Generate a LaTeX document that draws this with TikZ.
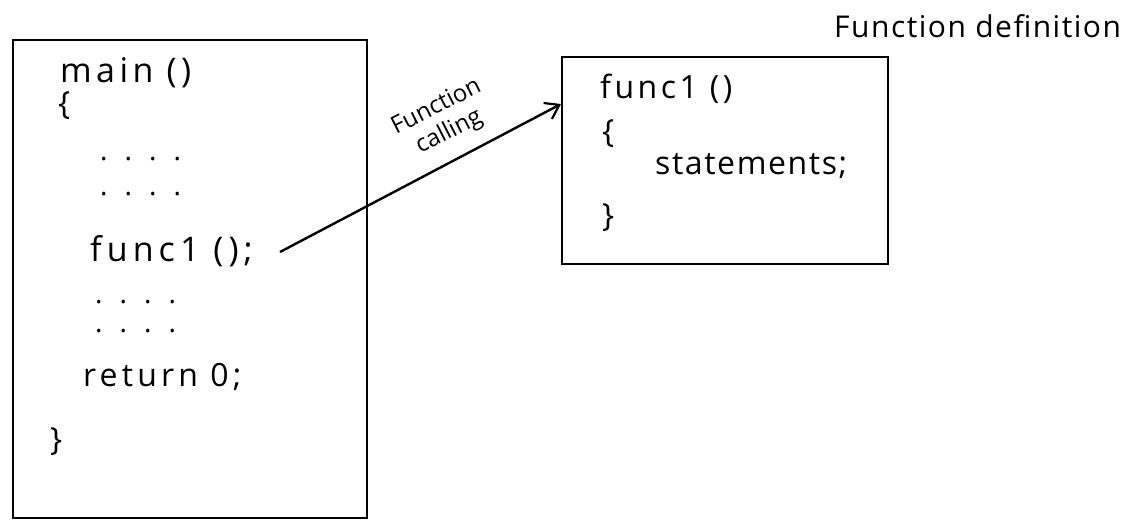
\documentclass[tikz,border=0pt]{standalone}
\usepackage{fontspec}
\setmainfont{Open Sans}
\usetikzlibrary{arrows.meta}
\tikzset{
  boxst/.style={draw, line width=2pt, inner sep=0pt},
  code/.style={anchor=base west, inner sep=0pt, font=\fontsize{32}{34}\selectfont},
  bigcode/.style={code, font=\fontsize{34}{36}\selectfont},
  dotrow/.style={anchor=base west, inner sep=0pt, font=\fontsize{28}{30}\selectfont},
  callarrow/.style={line width=2.4pt, -{Straight Barb[length=13pt,width=18pt,line width=2.2pt]}},
}
\newcommand{\dotsrow}{.\hspace{17pt}.\hspace{17pt}.\hspace{17pt}.}
\newcommand{\spaced}[2]{{\addfontfeatures{LetterSpace=#1}#2}}
\begin{document}
\begin{tikzpicture}[x=1pt,y=-1pt]
\useasboundingbox (0,0) rectangle (1146,522);
% boxes
\node[boxst, minimum width=354pt, minimum height=478pt] (mainbox) at (190,279) {};
\node[boxst, minimum width=326pt, minimum height=207pt] (defbox) at (725,160) {};
% main program text
\node[bigcode] (mainhead) at (60,82) {\spaced{13}{main ()}};
\node[code] (mainopen) at (58,114) {\{};
\node[dotrow] (d1) at (100,160) {\dotsrow};
\node[dotrow] (d2) at (100,195) {\dotsrow};
\node[bigcode] (call) at (90,261) {\spaced{15}{func1 ();}};
\node[dotrow] (d3) at (95,303) {\dotsrow};
\node[dotrow] (d4) at (95,332) {\dotsrow};
\node[code] (ret) at (83,386) {\spaced{13}{return 0;}};
\node[code] (mainclose) at (50,450) {\}};
% definition text
\node[code] (defhead) at (600,98) {\spaced{11}{func1 ()}};
\node[code] (defopen) at (602,142) {\{};
\node[code] (stmts) at (655,174) {\spaced{5}{statements;}};
\node[code] (defclose) at (602,226) {\}};
\node[code, font=\fontsize{30}{32}\selectfont] (deftitle) at (834,37) {\spaced{5}{Function definition}};
% arrow
\coordinate (start) at (280,252);
\coordinate (tiplevel) at (0,104);
\draw[callarrow] (start) -- (defbox.west |- tiplevel);
\node[inner sep=0pt, rotate=27, font=\fontsize{24}{28}\selectfont, align=center] (calllbl) at (443,120) {Function\\calling};
\end{tikzpicture}
\end{document}
